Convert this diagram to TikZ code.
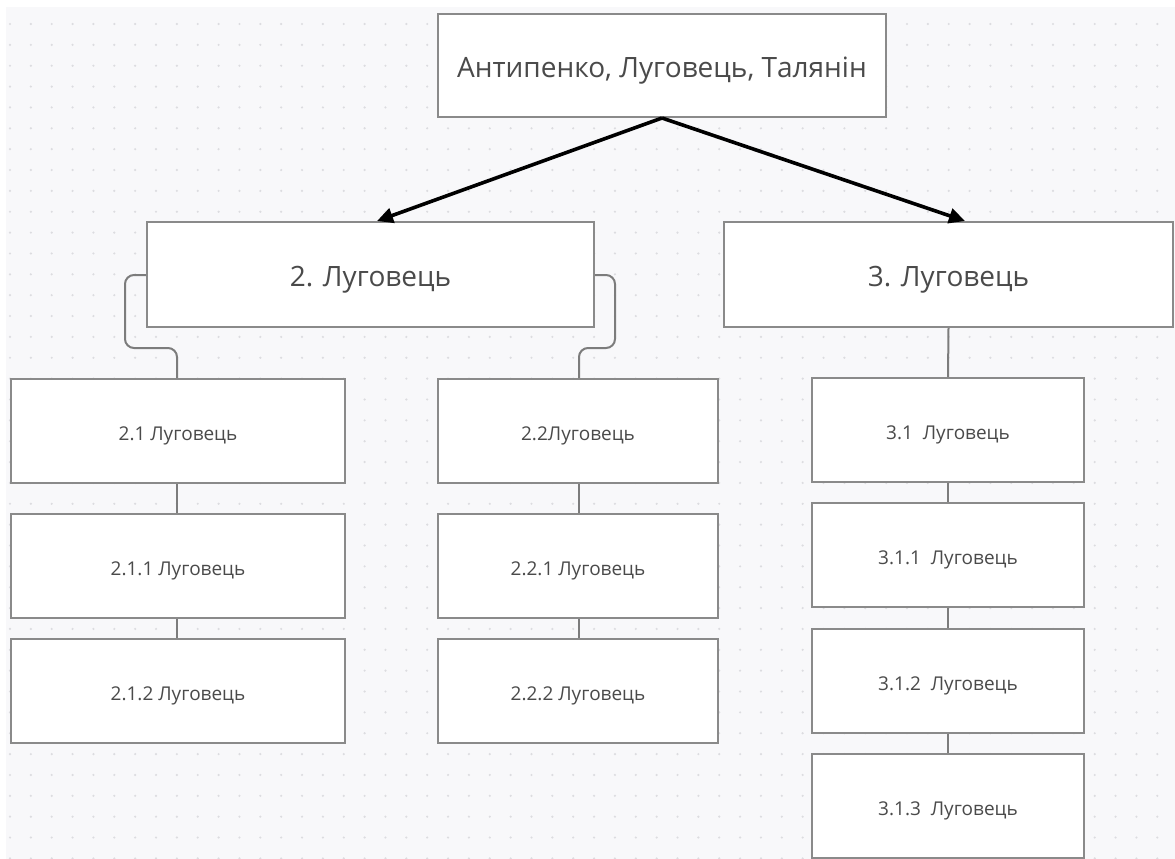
\documentclass[tikz,border=0pt]{standalone}
\usepackage{fontspec}
\setmainfont{Open Sans}
\usetikzlibrary{arrows.meta}
\definecolor{bgc}{HTML}{F8F8FA}
\definecolor{dotc}{HTML}{DCDCE0}
\definecolor{edgec}{HTML}{8A8A8A}
\definecolor{txtc}{HTML}{4A4A4A}
\newcommand{\lowr}[1]{\raisebox{-5pt}[\height][\depth]{#1}}
\tikzset{
  box/.style={draw=edgec, line width=2pt, fill=white, text=txtc, inner sep=0pt},
  bigtxt/.style={font=\fontsize{28}{32}\selectfont},
  midtxt/.style={font=\fontsize{28}{32}\selectfont},
  smalltxt/.style={font=\fontsize{19}{23}\selectfont},
  link/.style={draw=edgec!90!black, line width=2pt},
  elbow/.style={link, rounded corners=9pt},
  mainarrow/.style={draw=black, line width=3.6pt, -{Triangle[length=16pt,width=15pt]}}
}
\begin{document}
\begin{tikzpicture}[x=1pt,y=-1pt]
\useasboundingbox (0,0) rectangle (1175,859);
\fill[white] (0,0) rectangle (1175,859);
\fill[bgc] (6,7) rectangle (1175,859);
\foreach \i in {0,...,55}{
  \foreach \j in {0,...,40}{
    \fill[dotc] ({10+20.86*\i},{24+20.86*\j}) circle (1.2pt);
  }
}
% nodes
\node[box, bigtxt, minimum width=448pt, minimum height=103pt] (top) at (662,65.5) {\lowr{Антипенко, Луговець, Талянін}};
\node[box, midtxt, minimum width=447pt, minimum height=105pt] (b2) at (370.5,274.5) {\lowr{2. Луговець}};
\node[box, midtxt, minimum width=449pt, minimum height=105pt] (b3) at (948.5,274.5) {\lowr{3. Луговець}};
\node[box, smalltxt, minimum width=334pt, minimum height=104pt] (b21) at (178,431) {\lowr{2.1 Луговець}};
\node[box, smalltxt, minimum width=334pt, minimum height=104pt] (b211) at (178,566) {\lowr{2.1.1 Луговець}};
\node[box, smalltxt, minimum width=334pt, minimum height=104pt] (b212) at (178,691) {\lowr{2.1.2 Луговець}};
\node[box, smalltxt, minimum width=280pt, minimum height=104pt] (b22) at (578,431) {\lowr{2.2Луговець}};
\node[box, smalltxt, minimum width=280pt, minimum height=104pt] (b221) at (578,566) {\lowr{2.2.1 Луговець}};
\node[box, smalltxt, minimum width=280pt, minimum height=104pt] (b222) at (578,691) {\lowr{2.2.2 Луговець}};
\node[box, smalltxt, minimum width=272pt, minimum height=104pt] (b31) at (948,430) {\lowr{3.1\ \ Луговець}};
\node[box, smalltxt, minimum width=272pt, minimum height=104pt] (b311) at (948,555) {\lowr{3.1.1\ \ Луговець}};
\node[box, smalltxt, minimum width=272pt, minimum height=104pt] (b312) at (948,681) {\lowr{3.1.2\ \ Луговець}};
\node[box, smalltxt, minimum width=272pt, minimum height=104pt] (b313) at (948,806) {\lowr{3.1.3\ \ Луговець}};
% arrows
\draw[mainarrow] (top.south) -- (b2.north -| 377,0);
\draw[mainarrow] (top.south) -- (b3.north -| 965,0);
% elbow connectors
\draw[elbow] (b2.west |- 0,275) -- (125,275) -- (125,348) -- (177,348) -- (b21.north -| 177,0);
\draw[elbow] (b2.east |- 0,275) -- (615,275) -- (615,348) -- (579,348) -- (b22.north -| 579,0);
% straight links
\draw[link] (b3.south) -- (b31.north);
\draw[link] (b21.south -| 177,0) -- (b211.north -| 177,0);
\draw[link] (b211.south -| 177,0) -- (b212.north -| 177,0);
\draw[link] (b22.south -| 579,0) -- (b221.north -| 579,0);
\draw[link] (b221.south -| 579,0) -- (b222.north -| 579,0);
\draw[link] (b31.south) -- (b311.north);
\draw[link] (b311.south) -- (b312.north);
\draw[link] (b312.south) -- (b313.north);
\end{tikzpicture}
\end{document}
